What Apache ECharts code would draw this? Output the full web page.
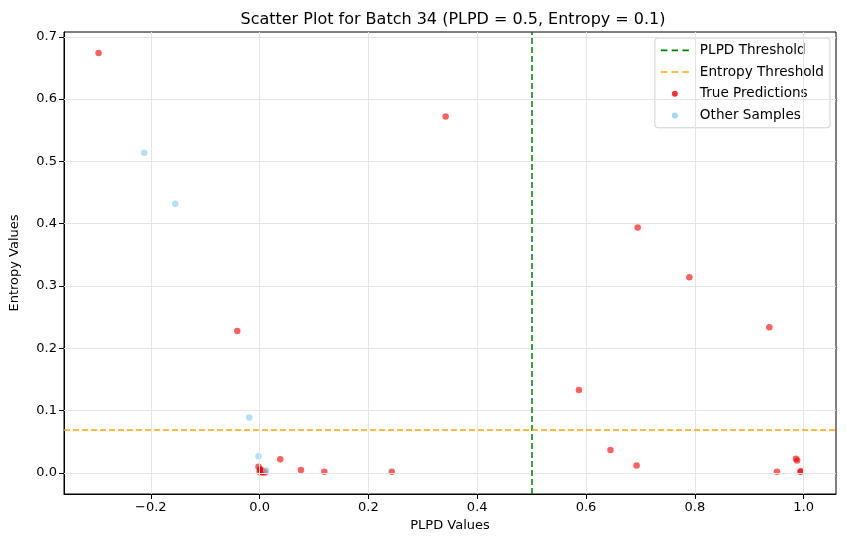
<!DOCTYPE html>
<html><head><meta charset="utf-8">
<script src="https://cdn.jsdelivr.net/npm/echarts@6/dist/echarts.min.js"></script>
<style>html,body{margin:0;padding:0;background:#fff}#c{width:846px;height:547px}</style>
</head><body><div id="c"></div>
<script>
const titleText = 'Scatter Plot for Batch 34 (PLPD = 0.5, Entropy = 0.1)';
const plpdThreshold = 0.5;
const entropyThreshold = 0.07;
const xTicks = [-0.2, 0.0, 0.2, 0.4, 0.6, 0.8, 1.0];
const yTicks = [0.0, 0.1, 0.2, 0.3, 0.4, 0.5, 0.6, 0.7];
const trueX = [-0.296, 0.342, -0.041, 0.695, 0.790, 0.937, 0.587, 0.645, 0.693, 0.951, 0.986, 0.988, 0.995, 0.994, 0.038, 0.076, 0.119, 0.243, -0.002, 0.000, 0.002, 0.005, 0.008, 0.010, 0.001, 0.004];
const trueY = [0.674, 0.572, 0.228, 0.394, 0.314, 0.234, 0.133, 0.037, 0.012, 0.002, 0.023, 0.020, 0.003, 0.002, 0.022, 0.005, 0.002, 0.002, 0.010, 0.002, 0.005, 0.001, 0.003, 0.001, 0.006, 0.002];
const otherX = [-0.212, -0.155, -0.019, -0.002, 0.012];
const otherY = [0.514, 0.432, 0.089, 0.027, 0.004];

const xmin = -0.3595, xmax = 1.0595, ymin = -0.0337, ymax = 0.7077;
const fmt = v => { const s = v.toFixed(1); return s.replace('-', '\u2212'); };
const font = 'DejaVu Sans';
const dashIcon = 'path://M0,0h6v1.5h-6zM10,0h6v1.5h-6zM20,0h6v1.5h-6z';
const chart = echarts.init(document.getElementById('c'), null, {renderer: 'canvas'});
chart.setOption({
  animation: false,
  backgroundColor: '#fff',
  textStyle: {fontFamily: font},
  title: {text: titleText, left: 448, top: 7, textAlign: 'center',
    textStyle: {fontFamily: font, fontSize: 16, fontWeight: 'normal', color: '#000'}},
  grid: {left: 61, right: 10, top: 32, bottom: 53, show: true, borderColor: '#000', borderWidth: 1, backgroundColor: 'transparent'},
  legend: {
    orient: 'vertical', right: 16, top: 38, padding: [5, 6, 5, 6],
    backgroundColor: 'rgba(255,255,255,0.8)', borderColor: '#d0d0d0', borderWidth: 1, borderRadius: 3,
    itemWidth: 28, itemHeight: 6, itemGap: 7, symbolKeepAspect: true,
    textStyle: {fontFamily: font, fontSize: 13.6, lineHeight: 14.7, color: '#000', padding: [0, 0, 0, 6]},
    data: [
      {name: 'PLPD Threshold', icon: dashIcon, itemStyle: {color: '#008000', borderWidth: 0}},
      {name: 'Entropy Threshold', icon: dashIcon, itemStyle: {color: '#ffa500', borderWidth: 0}},
      {name: 'True Predictions', icon: 'circle', itemStyle: {color: '#ff0000', borderWidth: 0}},
      {name: 'Other Samples', icon: 'circle', itemStyle: {color: '#87cefa', borderWidth: 0}}
    ]
  },
  xAxis: {
    type: 'value', min: xmin, max: xmax,
    name: 'PLPD Values', nameLocation: 'middle', nameGap: 24,
    nameTextStyle: {fontFamily: font, fontSize: 13, color: '#000'},
    axisLine: {show: true, onZero: false, lineStyle: {color: '#000', width: 1}},
    axisTick: {show: true, customValues: xTicks, length: 5, lineStyle: {color: '#000'}},
    axisLabel: {customValues: xTicks, formatter: fmt, fontFamily: font, fontSize: 13, color: '#000', margin: 7},
    splitLine: {show: false}
  },
  yAxis: {
    type: 'value', min: ymin, max: ymax,
    name: 'Entropy Values', nameLocation: 'middle', nameGap: 43, nameRotate: 90,
    nameTextStyle: {fontFamily: font, fontSize: 13, color: '#000'},
    axisLine: {show: true, onZero: false, lineStyle: {color: '#000', width: 1}},
    axisTick: {show: true, customValues: yTicks, length: 5, lineStyle: {color: '#000'}},
    axisLabel: {customValues: yTicks, formatter: fmt, fontFamily: font, fontSize: 13, color: '#000', margin: 7},
    splitLine: {show: false}
  },
  series: [
    {name: 'grid', type: 'line', data: [], silent: true, symbol: 'none',
      markLine: {silent: true, symbol: 'none', label: {show: false},
        lineStyle: {color: '#e4e4e4', width: 1, type: 'solid'},
        data: xTicks.map(v => ({xAxis: v})).concat(yTicks.map(v => ({yAxis: v})))}},
    {name: 'PLPD Threshold', type: 'line', data: [], symbol: 'none', z: 5,
      itemStyle: {color: '#008000'}, lineStyle: {color: '#008000', type: [6, 3], width: 1.5},
      markLine: {silent: true, symbol: 'none', label: {show: false},
        lineStyle: {color: '#008000', type: [6, 3], width: 1.5}, data: [{xAxis: plpdThreshold}]}},
    {name: 'Entropy Threshold', type: 'line', data: [], symbol: 'none', z: 5,
      itemStyle: {color: '#ffa500'}, lineStyle: {color: '#ffa500', type: [6, 3], width: 1.5},
      markLine: {silent: true, symbol: 'none', label: {show: false},
        lineStyle: {color: '#ffa500', type: [6, 3], width: 1.5}, data: [{yAxis: entropyThreshold}]}},
    {name: 'True Predictions', type: 'scatter', symbolSize: 6.5, z: 3,
      itemStyle: {color: 'rgba(255,0,0,0.78)', borderWidth: 0},
      data: trueX.map((x, i) => [x, trueY[i]])},
    {name: 'Other Samples', type: 'scatter', symbolSize: 6.5, z: 4,
      itemStyle: {color: 'rgba(135,206,250,0.8)', borderWidth: 0},
      data: otherX.map((x, i) => [x, otherY[i]])}
  ]
});
</script></body></html>
